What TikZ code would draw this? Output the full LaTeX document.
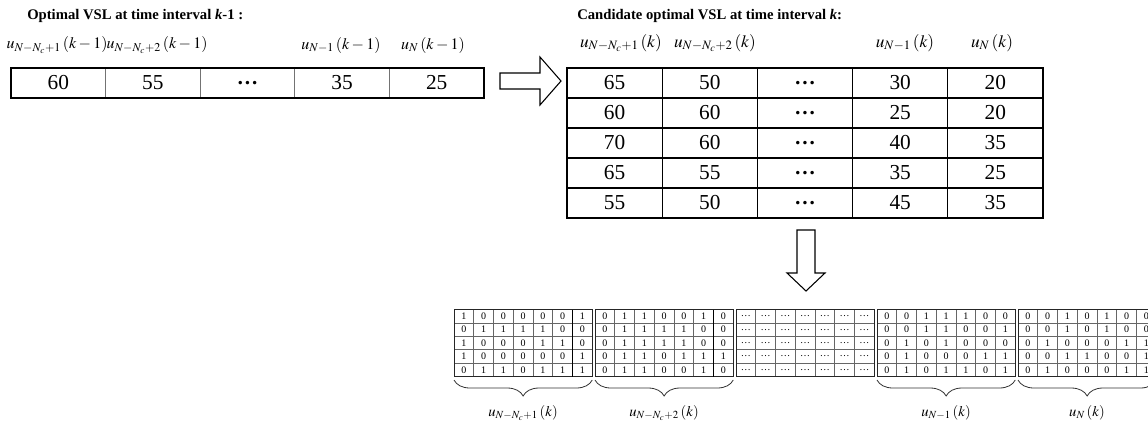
\documentclass[tikz,border=0pt]{standalone}
\usepackage{mathptmx}
\usepackage{fontspec}
\setmainfont{Liberation Serif}
\usetikzlibrary{decorations.pathreplacing}

% bold ellipsis used in the "..." columns
\newcommand\ellcell{\textbf{\ldots}}

% one block of 7 binary columns x 5 rows: #1 index, #2 left x, #3 rows
\newcommand\bitgroup[3]{%
  \foreach \row [count=\r from 0] in {#3} {
    \foreach \d [count=\c from 0] in \row {
      \node[bit] (b#1-\r-\c) at ({#2+19.75*\c+9.875},{309.5+13.4*\r+6.7}) {\d};
    }
  }
  \foreach \i in {1,...,6} \draw[bitgrid] ({#2+19.75*\i},309.5) -- ++(0,67);
  \foreach \j in {1,...,4} \draw[bitgrid] (#2,{309.5+13.4*\j}) -- ++(138.25,0);
  \draw[bitframe] (#2,309.5) rectangle ++(138.25,67);
}

\begin{document}
\begin{tikzpicture}[x=0.75pt,y=-0.75pt,
  title/.style={font=\fontsize{11}{13}\selectfont\bfseries, anchor=west, inner sep=0},
  vslnum/.style={font=\fontsize{16}{18}\selectfont, inner sep=0},
  hdr/.style={font=\fontsize{12}{14}\selectfont, inner sep=0},
  hdrk/.style={font=\fontsize{13}{15}\selectfont, inner sep=0},
  bit/.style={font=\fontsize{7.5}{9}\selectfont, inner sep=0},
  blabel/.style={font=\fontsize{11}{13}\selectfont, inner sep=0},
  thingrid/.style={line width=0.7pt, draw=black!55},
  frame/.style={line width=1.1pt, draw=black},
  tgrid/.style={line width=1pt, draw=black},
  bitgrid/.style={line width=0.5pt, draw=black!60},
  bitframe/.style={line width=0.7pt, draw=black!85},
  hollow/.style={draw=black, line width=0.8pt, fill=white, line join=miter},
  ubrace/.style={decorate, decoration={brace, mirror, amplitude=12pt}, line width=0.6pt, draw=black!80},
]
\useasboundingbox (0,0) rectangle (1148,425);
\clip (0,0) rectangle (1148,425);

% ---------- titles ----------
\node[title] (t1) at (27,16) {Optimal VSL at time interval \textit{k}-1 :};
\node[title] (t2) at (577,16) {Candidate optimal VSL at time interval \textit{k}:};

% ---------- VSL at interval k-1 ----------
\foreach \v [count=\i from 0] in {60,55,\ellcell,35,25}
  \node[vslnum] (p\i) at ({11+94.6*\i+47.3},83) {\v};
\foreach \i in {1,...,4} \draw[thingrid] ({11+94.6*\i},68) -- ++(0,30);
\draw[frame] (11,68) rectangle (484,98);

\node[hdr] (hp0) at (57,45)  {$u_{N-N_c+1}\left(k-1\right)$};
\node[hdr] (hp1) at (157,45) {$u_{N-N_c+2}\left(k-1\right)$};
\node[hdr] (hp3) at (341,45) {$u_{N-1}\left(k-1\right)$};
\node[hdr] (hp4) at (433,45) {$u_{N}\left(k-1\right)$};

% ---------- candidate VSL at interval k ----------
\foreach \row [count=\r from 0] in {{65,50,\ellcell,30,20},{60,60,\ellcell,25,20},
    {70,60,\ellcell,40,35},{65,55,\ellcell,35,25},{55,50,\ellcell,45,35}} {
  \foreach \v [count=\c from 0] in \row
    \node[vslnum] (c\r-\c) at ({567+95.2*\c+47.6},{68+30*\r+15}) {\v};
}
\foreach \i in {1,...,4} \draw[tgrid] ({567+95.2*\i},68) -- ++(0,150);
\foreach \j in {1,...,4} \draw[tgrid] (567,{68+30*\j}) -- ++(476,0);
\draw[frame] (567,68) rectangle (1043,218);

\node[hdrk] (hc0) at (621,43) {$u_{N-N_c+1}\left(k\right)$};
\node[hdrk] (hc1) at (715,43) {$u_{N-N_c+2}\left(k\right)$};
\node[hdrk] (hc3) at (905,43) {$u_{N-1}\left(k\right)$};
\node[hdrk] (hc4) at (992,43) {$u_{N}\left(k\right)$};

% ---------- block arrows ----------
\coordinate (ra) at (500,81);
\draw[hollow] (ra) ++(0,-8) -- ++(40,0) -- ++(0,-16) -- ++(21,24) -- ++(-21,24)
  -- ++(0,-16) -- ++(-40,0) -- cycle;
\coordinate (da) at (806,230);
\draw[hollow] (da) ++(-9,0) -- ++(18,0) -- ++(0,43) -- ++(10,0) -- ++(-19,18)
  -- ++(-19,-18) -- ++(10,0) -- cycle;

% ---------- binary encoding ----------
\bitgroup{1}{454}{{1,0,0,0,0,0,1},{0,1,1,1,1,0,0},{1,0,0,0,1,1,0},{1,0,0,0,0,0,1},{0,1,1,0,1,1,1}}
\bitgroup{2}{595}{{0,1,1,0,0,1,0},{0,1,1,1,1,0,0},{0,1,1,1,1,0,0},{0,1,1,0,1,1,1},{0,1,1,0,0,1,0}}
\bitgroup{3}{736}{{\ldots,\ldots,\ldots,\ldots,\ldots,\ldots,\ldots},{\ldots,\ldots,\ldots,\ldots,\ldots,\ldots,\ldots},
  {\ldots,\ldots,\ldots,\ldots,\ldots,\ldots,\ldots},{\ldots,\ldots,\ldots,\ldots,\ldots,\ldots,\ldots},
  {\ldots,\ldots,\ldots,\ldots,\ldots,\ldots,\ldots}}
\bitgroup{4}{877}{{0,0,1,1,1,0,0},{0,0,1,1,0,0,1},{0,1,0,1,0,0,0},{0,1,0,0,0,1,1},{0,1,0,1,1,0,1}}
\bitgroup{5}{1018}{{0,0,1,0,1,0,0},{0,0,1,0,1,0,0},{0,1,0,0,0,1,1},{0,0,1,1,0,0,1},{0,1,0,0,0,1,1}}
% the column split inside the first two blocks is drawn heavier
\draw[line width=1pt] ({454+19.75*6},309.5) -- ++(0,67);
\draw[line width=1pt] ({595+19.75*6},309.5) -- ++(0,67);

% ---------- braces and labels ----------
\foreach \gx/\lab [count=\k] in {454/{$u_{N-N_c+1}\left(k\right)$},595/{$u_{N-N_c+2}\left(k\right)$},
    877/{$u_{N-1}\left(k\right)$},1018/{$u_{N}\left(k\right)$}} {
  \draw[ubrace] (\gx,380) -- ({\gx+138.25},380);
  \node[blabel] (bl\k) at ({\gx+69},413) {\lab};
}
\end{tikzpicture}
\end{document}
